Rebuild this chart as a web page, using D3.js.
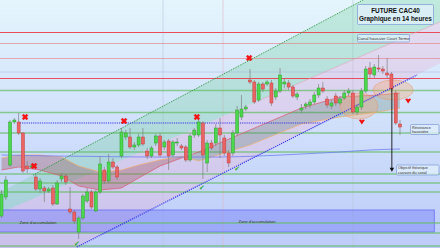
<!DOCTYPE html>
<html>
<head>
<meta charset="utf-8">
<script src="https://cdn.jsdelivr.net/npm/d3@7"></script>
<style>
  body { margin: 0; overflow: hidden; }
  svg { display: block; font-family: 'Liberation Sans', Arial, sans-serif; }
</style>
</head>
<body>
<div id="chart"></div>
<script>
var width = 440, height = 248

// candles, 14h bars: [open, high, low, close]
var candles = [
  [7368,7420,7364,7412],[7406,7448,7400,7440],[7470,7560,7466,7556],[7556,7564,7552,7560],
  [7556,7574,7530,7534],[7534,7536,7454,7458],[7468,7478,7454,7462],[7466,7472,7464,7468],
  [7446,7452,7418,7422],[7422,7444,7414,7438],[7424,7428,7396,7418],[7418,7426,7414,7422],
  [7424,7430,7388,7392],[7392,7440,7390,7434],[7442,7454,7436,7448],[7448,7452,7430,7436],
  [7382,7426,7372,7376],[7376,7380,7352,7358],[7336,7368,7322,7364],[7364,7412,7360,7408],
  [7398,7424,7394,7416],[7416,7420,7382,7386],[7378,7420,7376,7416],[7416,7488,7412,7472],
  [7460,7466,7432,7438],[7438,7492,7434,7476],[7476,7484,7462,7466],[7466,7470,7440,7446],
  [7488,7544,7484,7536],[7526,7540,7520,7534],[7526,7544,7502,7506],[7506,7516,7500,7510],
  [7510,7532,7506,7526],[7526,7544,7508,7512],[7498,7504,7482,7488],[7488,7508,7484,7504],
  [7514,7532,7508,7528],[7528,7534,7486,7490],[7506,7520,7500,7516],[7518,7522,7460,7488],
  [7490,7520,7486,7516],[7514,7524,7508,7516],[7508,7512,7500,7504],[7506,7510,7476,7480],
  [7480,7532,7476,7528],[7530,7544,7524,7540],[7530,7564,7526,7556],[7554,7558,7442,7490],
  [7474,7520,7456,7514],[7514,7520,7500,7504],[7514,7552,7508,7544],[7544,7564,7484,7530],
  [7524,7530,7488,7494],[7494,7500,7466,7474],[7494,7540,7488,7534],[7534,7588,7528,7580],
  [7566,7610,7560,7582],[7582,7590,7578,7586],[7640,7662,7632,7636],[7636,7640,7592,7596],
  [7600,7636,7596,7632],[7632,7636,7616,7622],[7632,7640,7628,7636],[7634,7640,7588,7594],
  [7606,7624,7600,7618],[7618,7664,7614,7650],[7632,7644,7624,7636],[7634,7640,7620,7626],
  [7626,7630,7604,7608],[7606,7616,7600,7612],[7580,7592,7574,7584],[7588,7596,7582,7592],
  [7590,7602,7584,7596],[7596,7616,7592,7610],[7610,7632,7604,7624],[7624,7636,7614,7618],
  [7602,7608,7584,7590],[7588,7600,7582,7594],[7608,7614,7588,7594],[7594,7608,7590,7602],
  [7604,7620,7600,7614],[7614,7624,7608,7618],[7614,7620,7572,7576],[7576,7592,7570,7586],
  [7586,7624,7580,7618],[7618,7668,7614,7662],[7664,7676,7644,7652],[7650,7672,7644,7666],
  [7664,7690,7656,7662],[7662,7668,7652,7658],[7654,7684,7644,7650],[7652,7656,7616,7622],
  [7614,7620,7550,7554],[7552,7560,7530,7546]
]

// horizontal levels
var redLevels = [7735, 7643]
var paleRedLevels = [7713, 7683]
var greyLevels = [7656]
var greenLevels = [7619, 7575, 7534, 7496, 7452, 7434, 7416, 7354, 7334, 7308]
var supportDotted = {from: 4.3, to: 74.3, price: 7554}
var accumZone = {top: 7380, bottom: 7336, from: -0.5, to: 101}

// channel lines: [[index, price], [index, price]]
var channelTop = [[7.4, 7450], [84.4, 7800]]
var channelMid = [[-0.35, 7374], [102.3, 7756]]
var channelLow = [[17.6, 7306], [96.97, 7650]]

// cloud (two spans) and long moving average
var cloudIdx = [0, 4, 9, 14, 18, 23, 28, 32, 37, 42, 46, 58, 70, 79, 88, 93]
var spanA = [7484, 7490, 7490, 7486, 7468, 7456, 7460, 7470, 7480, 7488, 7478, 7510, 7552, 7566, 7576, 7584]
var spanB = [7460, 7466, 7460, 7448, 7428, 7420, 7424, 7444, 7468, 7484, 7496, 7540, 7584, 7606, 7610, 7614]
var cloudCross = 10
var maIdx = [0, 12, 23, 35, 46, 51, 60, 70, 79, 86, 93]
var maLong = [7490, 7488, 7487, 7486, 7486, 7486, 7488, 7492, 7496, 7500, 7502]

// markers [index, price]
var crossMarks = [[5.5, 7566], [28.6, 7558], [45.6, 7566], [57.8, 7684], [7.6, 7468]]
var downMarks = [[84.1, 7556], [94.9, 7598]]
var checkMarks = [[17.6, 7314], [46.8, 7426], [55, 7464]]
var ellipses = [[83.4, 7588], [91.4, 7620]]
var targetArrow = {idx: 91.1, from: 7624, to: 7460}
var vGrid = [37.7, 82], vGridPink = [51.7]

var x = d3.scaleLinear().domain([0, candles.length - 1]).range([1.5, 400])
var y = d3.scaleLinear().domain([7300, 7800]).range([250, 0])

var svg = d3.select('#chart').append('svg')
    .attr('width', width).attr('height', height)

var defs = svg.append('defs')
var grad = defs.append('linearGradient').attr('id', 'bg')
    .attr('x1', 0).attr('y1', 0).attr('x2', 0).attr('y2', 1)
grad.append('stop').attr('offset', '0%').attr('stop-color', '#e4f5fd')
grad.append('stop').attr('offset', '50%').attr('stop-color', '#d0e0fb')
grad.append('stop').attr('offset', '100%').attr('stop-color', '#bccbf8')

svg.append('rect').attr('width', width).attr('height', height).attr('fill', 'url(#bg)')

svg.selectAll('line.vg').data(vGrid).enter().append('line')
    .attr('x1', x).attr('x2', x).attr('y1', 0).attr('y2', height)
    .attr('stroke', '#b8c8dc').attr('stroke-width', 0.6)
svg.selectAll('line.vgp').data(vGridPink).enter().append('line')
    .attr('x1', x).attr('x2', x).attr('y1', 0).attr('y2', height)
    .attr('stroke', '#e0b8c8').attr('stroke-width', 0.6)

function at(line, i){
  var a = line[0], b = line[1]
  return a[1] + (b[1] - a[1]) * (i - a[0]) / (b[0] - a[0])
}
var i0 = -2, i1 = 104
function band(l1, l2){
  return [[x(i0), y(at(l1, i0))], [x(i1), y(at(l1, i1))], [x(i1), y(at(l2, i1))], [x(i0), y(at(l2, i0))]]
}
svg.append('path').attr('d', 'M' + band(channelTop, channelMid).join('L') + 'Z')
    .attr('fill', 'rgba(110,210,150,0.3)')
svg.append('path').attr('d', 'M' + band(channelMid, channelLow).join('L') + 'Z')
    .attr('fill', 'rgba(232,175,210,0.32)')

// accumulation zone
svg.append('rect')
    .attr('x', x(accumZone.from)).attr('y', y(accumZone.top))
    .attr('width', x(accumZone.to) - x(accumZone.from))
    .attr('height', y(accumZone.bottom) - y(accumZone.top))
    .attr('fill', 'rgba(110,120,250,0.42)').attr('stroke', '#6b6cf2').attr('stroke-width', 0.8)

function hline(sel, data, color, w){
  sel.selectAll(null).data(data).enter().append('line')
    .attr('x1', 0).attr('x2', width)
    .attr('y1', y).attr('y2', y)
    .attr('stroke', color).attr('stroke-width', w)
}
var levels = svg.append('g')
hline(levels, greyLevels, 'rgba(170,175,220,0.6)', 0.8)
hline(levels, greenLevels, 'rgba(100,190,100,0.7)', 1.3)
hline(levels, paleRedLevels, 'rgba(232,120,130,0.75)', 0.8)
hline(levels, redLevels, '#ea3c48', 0.9)

// cloud
var area = d3.area().x(function(d){ return x(d[0]) })
    .y0(function(d){ return y(d[1]) }).y1(function(d){ return y(d[2]) })
var cloud = cloudIdx.map(function(d, i){ return [d, spanA[i], spanB[i]] })
svg.append('path').datum(cloud.slice(0, cloudCross))
    .attr('d', area).attr('fill', 'rgba(160,80,90,0.35)')
svg.append('path').datum(cloud.slice(cloudCross - 1))
    .attr('d', area).attr('fill', 'rgba(70,110,90,0.25)')
var lineA = d3.line().x(function(d){ return x(d[0]) }).y(function(d){ return y(d[1]) })
svg.append('path').datum(cloud.map(function(d){ return [d[0], d[1]] }))
    .attr('d', lineA).attr('fill', 'none').attr('stroke', '#f0b070').attr('stroke-width', 0.7)
svg.append('path').datum(cloud.map(function(d){ return [d[0], d[2]] }))
    .attr('d', lineA).attr('fill', 'none').attr('stroke', '#d85a6a').attr('stroke-width', 0.7)

svg.append('path').datum(maIdx.map(function(d, i){ return [d, maLong[i]] }))
    .attr('d', lineA.curve(d3.curveMonotoneX)).attr('fill', 'none')
    .attr('stroke', '#6f7ff0').attr('stroke-width', 0.8)
lineA.curve(d3.curveLinear)

// ellipses
svg.selectAll('ellipse').data(ellipses).enter().append('ellipse')
    .attr('cx', function(d){ return x(d[0]) }).attr('cy', function(d){ return y(d[1]) })
    .attr('rx', function(d, i){ return i ? 20 : 19 }).attr('ry', function(d, i){ return i ? 10 : 13 })
    .attr('fill', 'rgba(245,170,120,0.38)').attr('stroke', 'rgba(235,140,90,0.7)').attr('stroke-width', 0.6)

// channel lines
function seg(line, a, b){ return [[x(a), y(at(line, a))], [x(b), y(at(line, b))]] }
svg.append('path').attr('d', 'M' + seg(channelTop, channelTop[0][0], i1).join('L'))
    .attr('stroke', '#2c9a3c').attr('stroke-width', 1).attr('stroke-dasharray', '1,1')
svg.append('path').attr('d', 'M' + seg(channelMid, 60, i1).join('L'))
    .attr('stroke', 'rgba(230,150,175,0.8)').attr('stroke-width', 0.6)
svg.append('path').attr('d', 'M' + seg(channelLow, channelLow[0][0], channelLow[1][0]).join('L'))
    .attr('stroke', '#3434e6').attr('stroke-width', 1.2).attr('stroke-dasharray', '1.2,1')
svg.append('line')
    .attr('x1', x(supportDotted.from)).attr('x2', x(supportDotted.to))
    .attr('y1', y(supportDotted.price)).attr('y2', y(supportDotted.price))
    .attr('stroke', '#3434e6').attr('stroke-width', 1.2).attr('stroke-dasharray', '1.2,1')

// candles
var cw = 3
var cg = svg.append('g').selectAll('g').data(candles).enter().append('g')
cg.append('line')
    .attr('x1', function(d, i){ return x(i) }).attr('x2', function(d, i){ return x(i) })
    .attr('y1', function(d){ return y(d[1]) }).attr('y2', function(d){ return y(d[2]) })
    .attr('stroke', '#808080').attr('stroke-width', 0.7)
cg.append('rect')
    .attr('x', function(d, i){ return x(i) - cw / 2 }).attr('width', cw)
    .attr('y', function(d){ return y(Math.max(d[0], d[3])) })
    .attr('height', function(d){ return Math.max(1, Math.abs(y(d[0]) - y(d[3]))) })
    .attr('fill', function(d){ return d[3] >= d[0] ? '#4cd84c' : '#ea6464' })
    .attr('stroke', function(d){ return d[3] >= d[0] ? '#2e9e2e' : '#c23c3c' })
    .attr('stroke-width', 0.5)

// markers
svg.selectAll('path.xm').data(crossMarks).enter().append('path')
    .attr('d', d3.symbol(d3.symbolCross).size(22))
    .attr('transform', function(d){ return 'translate(' + x(d[0]) + ',' + y(d[1]) + ') rotate(45)' })
    .attr('fill', '#ff1010').attr('stroke', '#c00').attr('stroke-width', 0.3)
svg.selectAll('path.dm').data(downMarks).enter().append('path')
    .attr('d', 'M-3,-2 L-1,-2.5 L0,-1.5 L1,-2.5 L3,-2 L0,2.5 Z')
    .attr('transform', function(d){ return 'translate(' + x(d[0]) + ',' + y(d[1]) + ')' })
    .attr('fill', '#f01010')
svg.selectAll('text.cm').data(checkMarks).enter().append('text')
    .attr('x', function(d){ return x(d[0]) }).attr('y', function(d){ return y(d[1]) + 2.5 })
    .attr('text-anchor', 'middle').attr('font-family', 'DejaVu Sans').attr('font-size', 7)
    .attr('fill', '#3aa83a').text('\u2714')

// target arrow
svg.append('line')
    .attr('x1', x(targetArrow.idx)).attr('x2', x(targetArrow.idx))
    .attr('y1', y(targetArrow.from)).attr('y2', y(targetArrow.to) - 2)
    .attr('stroke', '#111').attr('stroke-width', 0.9)
svg.append('path')
    .attr('d', d3.symbol(d3.symbolTriangle).size(9))
    .attr('transform', 'translate(' + x(targetArrow.idx) + ',' + (y(targetArrow.to) - 1) + ') rotate(180)')
    .attr('fill', '#111')

// labels
function box(x0, y0, w, h){
  svg.append('rect').attr('x', x0).attr('y', y0).attr('width', w).attr('height', h).attr('rx', 1.2)
      .attr('fill', 'rgba(225,240,252,0.75)').attr('stroke', '#7b98d4').attr('stroke-width', 0.7)
}
function label(x0, y0, lines, size){
  var t = svg.append('text').attr('font-size', size).attr('fill', '#333')
  lines.forEach(function(s, i){
    t.append('tspan').attr('x', x0).attr('y', y0 + i * (size + 0.6)).text(s)
  })
}
box(357.5, 4.5, 76, 20)
svg.append('text').attr('x', 395.5).attr('y', 12.5).attr('text-anchor', 'middle')
    .attr('font-size', 6.4).attr('font-weight', 'bold').attr('fill', '#111').text('FUTURE CAC40')
svg.append('text').attr('x', 395.5).attr('y', 21.3).attr('text-anchor', 'middle')
    .attr('font-size', 6.4).attr('font-weight', 'bold').attr('fill', '#111').text('Graphique en 14 heures')

box(357.5, 34.5, 52, 7.5)
svg.append('text').attr('x', 383.5).attr('y', 40).attr('text-anchor', 'middle')
    .attr('font-size', 4.2).attr('fill', '#333').text('Canal haussier Court Terme')

box(410.5, 124.5, 28.5, 10)
label(412, 128.6, ['Résistance', 'haussière'], 3.8)

box(396.5, 165, 42.5, 10)
label(398, 169.1, ['Objectif théorique', 'cassure du canal'], 3.8)

svg.append('text').attr('x', 38).attr('y', 223.5).attr('text-anchor', 'middle')
    .attr('font-size', 4).attr('fill', '#333').text("Zone d'accumulation")
svg.append('text').attr('x', 257).attr('y', 223).attr('text-anchor', 'middle')
    .attr('font-size', 4).attr('fill', '#333').text("Zone d'accumulation")
</script>
</body>
</html>
